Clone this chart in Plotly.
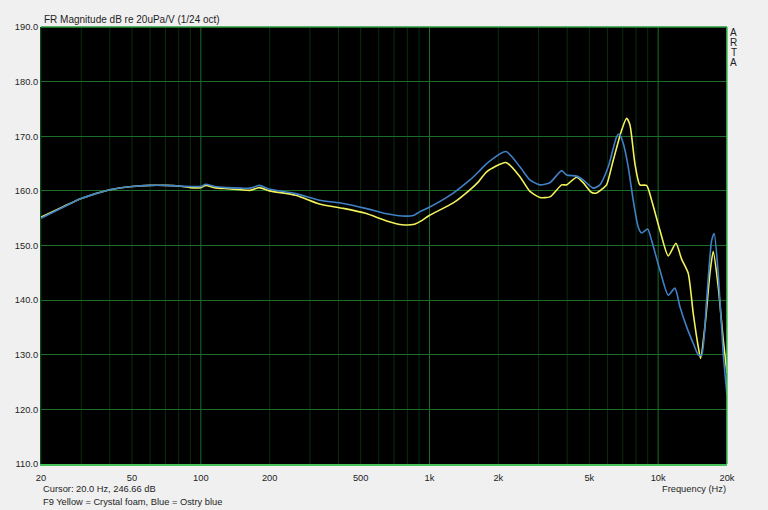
import math
import plotly.graph_objects as go

# ---------------- data ----------------
blue_freq = [20, 25, 30, 40, 50, 60, 70, 80, 90, 100, 105, 115, 130, 150, 165, 180, 200,
             260, 330, 420, 525, 650, 760, 850, 908, 998, 1270, 1502, 1640, 1778, 2160,
             2486, 2750, 3040, 3362, 3784, 3978, 4400, 4700, 5200, 5564, 6050, 6580, 6756,
             7034, 7396, 7778, 8178, 8464, 8992, 9362, 10178, 11068, 11838, 12450, 13318,
             14232, 14966, 15488, 16288, 17128, 17580, 18304, 19250, 20000]
blue_db = [155.0, 157.0, 158.6, 160.2, 160.8, 161.0, 161.0, 160.9, 160.8, 160.8, 161.2, 160.8,
           160.6, 160.5, 160.5, 161.0, 160.3, 159.5, 158.3, 157.7, 156.8, 155.8, 155.4, 155.5,
           156.2, 157.0, 159.6, 162.0, 163.5, 165.0, 167.2, 164.4, 162.0, 161.1, 161.5, 163.7,
           162.9, 162.7, 162.0, 160.5, 161.1, 164.4, 169.9, 170.4, 168.7, 164.4, 158.3, 153.4,
           152.3, 153.0, 150.9, 145.5, 140.9, 142.2, 138.8, 135.1, 132.1, 130.0, 129.9, 140.0,
           150.9, 152.2, 144.9, 130.3, 122.6]

yellow_freq = [20, 25, 30, 40, 50, 60, 70, 80, 90, 100, 105, 115, 130, 150, 165, 180, 200,
               260, 330, 420, 525, 650, 760, 860, 920, 998, 1270, 1502, 1640, 1778, 2160,
               2486, 2750, 3040, 3362, 3784, 3978, 4400, 4700, 5116, 5380, 5752, 5950, 6362,
               6920, 7278, 7524, 7912, 8320, 8900, 9362, 10178, 11068, 11958, 12664, 13534,
               14232, 14966, 15332, 16012, 16840, 17408, 18304, 19250, 20000]
yellow_db = [155.2, 157.1, 158.6, 160.2, 160.8, 161.0, 161.0, 160.9, 160.6, 160.6, 161.0, 160.6,
             160.4, 160.2, 160.1, 160.6, 160.0, 159.2, 157.6, 156.8, 155.9, 154.5, 153.8, 153.9,
             154.5, 155.5, 157.8, 160.2, 161.7, 163.5, 165.2, 162.6, 159.9, 158.8, 158.9, 161.1,
             161.1, 162.5, 161.5, 159.7, 159.6, 160.5, 161.1, 165.6, 171.1, 173.3, 172.1, 165.0,
             161.1, 161.0, 158.3, 152.8, 148.1, 150.4, 147.5, 144.9, 137.6, 131.5, 129.3, 135.1,
             144.9, 148.9, 142.5, 132.8, 126.6]

x_label_vals = [20, 50, 100, 200, 500, 1000, 2000, 5000, 10000, 20000]
x_label_text = ["20", "50", "100", "200", "500", "1k", "2k", "5k", "10k", "20k"]
x_decade_grid = [100, 1000, 10000]
x_minor_grid = [20, 30, 40, 50, 60, 70, 80, 90,
                200, 300, 400, 500, 600, 700, 800, 900,
                2000, 3000, 4000, 5000, 6000, 7000, 8000, 9000, 20000]
y_min, y_max, y_step = 110, 190, 10

title_text = "FR Magnitude dB re 20uPa/V (1/24 oct)"
cursor_text = "Cursor: 20.0 Hz, 246.66 dB"
legend_text = "F9 Yellow = Crystal foam, Blue = Ostry blue"
xtitle_text = "Frequency (Hz)"
brand_letters = ["A", "R", "T", "A"]

# ---------------- layout geometry (pixels) ----------------
W, H = 768, 510
ML, MR, MT, MB = 41, 41, 27, 46
PW, PH = W - ML - MR, H - MT - MB


def px_x(x):
    return (x - ML) / PW


def px_y(y):
    return 1 - (y - MT) / PH


FONT = "Liberation Sans, Arial, sans-serif"
TXT = "#1e1e1e"
GRID_MAJOR = "#1a6e28"
GRID_MINOR = "#082c0e"
BORDER = "#46c05a"

fig = go.Figure()
fig.add_trace(go.Scatter(x=yellow_freq, y=yellow_db, mode="lines", name="Crystal foam",
                         line=dict(color="#f2f25c", width=1.6, shape="spline", smoothing=0.6),
                         hoverinfo="skip"))
fig.add_trace(go.Scatter(x=blue_freq, y=blue_db, mode="lines", name="Ostry blue",
                         line=dict(color="#3f80c6", width=1.6, shape="spline", smoothing=0.6),
                         hoverinfo="skip"))

xr = [math.log10(20), math.log10(20000)]

# vertical grid lines (frame decoration placed through the x axis scale)
shapes = [dict(type="line", xref="x", yref="paper", x0=v, x1=v, y0=0, y1=1, layer="between",
               line=dict(color=GRID_MINOR, width=1)) for v in x_minor_grid]
shapes += [dict(type="line", xref="x", yref="paper", x0=v, x1=v, y0=0, y1=1, layer="between",
                line=dict(color=GRID_MAJOR, width=1)) for v in x_decade_grid]
shapes += [
    dict(type="line", xref="paper", yref="paper", x0=1, x1=1, y0=0, y1=1,
         line=dict(color=BORDER, width=1.5)),
    dict(type="line", xref="paper", yref="paper", x0=0, x1=1, y0=1, y1=1,
         line=dict(color="#2a9a3e", width=1.5)),
]

fig.update_layout(
    template="none",
    width=W, height=H, autosize=False,
    margin=dict(l=ML, r=MR, t=MT, b=MB, pad=0),
    paper_bgcolor="#f0f0f0", plot_bgcolor="#000000",
    showlegend=False, hovermode=False,
    font=dict(family=FONT, size=9.3, color=TXT),
    xaxis=dict(type="log", range=xr, tickvals=x_label_vals, ticktext=x_label_text,
               showgrid=False, zeroline=False,
               ticks="outside", ticklen=4, tickcolor="rgba(0,0,0,0)",
               showline=True, linecolor=BORDER, linewidth=1.5, showspikes=False,
               tickfont=dict(family=FONT, size=9.3, color=TXT)),
    yaxis=dict(range=[y_min, y_max], dtick=y_step, tick0=y_min, tickformat=".1f",
               showgrid=True, gridcolor=GRID_MAJOR, gridwidth=1, zeroline=False,
               ticks="", showline=True, linecolor="#0d4a18", linewidth=1, showspikes=False,
               tickfont=dict(family=FONT, size=9.3, color=TXT)),
    shapes=shapes,
)

ann = []
ann.append(dict(text=title_text, xref="paper", yref="paper", x=px_x(42), y=px_y(19.5),
                xanchor="left", yanchor="middle", showarrow=False,
                font=dict(family=FONT, size=10, color=TXT)))
for i, ch in enumerate(brand_letters):
    ann.append(dict(text=ch, xref="paper", yref="paper", x=px_x(733.7), y=px_y(32.5 + 10 * i),
                    xanchor="center", yanchor="middle", showarrow=False,
                    font=dict(family=FONT, size=10, color=TXT)))
ann.append(dict(text=xtitle_text, xref="paper", yref="paper", x=px_x(727.5), y=px_y(489),
                xanchor="right", yanchor="middle", showarrow=False,
                font=dict(family=FONT, size=9.3, color=TXT)))
ann.append(dict(text=cursor_text, xref="paper", yref="paper", x=px_x(41), y=px_y(489),
                xanchor="left", yanchor="middle", showarrow=False,
                font=dict(family=FONT, size=9.3, color=TXT)))
ann.append(dict(text=legend_text, xref="paper", yref="paper", x=px_x(41), y=px_y(502),
                xanchor="left", yanchor="middle", showarrow=False,
                font=dict(family=FONT, size=9.3, color=TXT)))
fig.update_layout(annotations=ann)

fig.write_html("out.html", config={"staticPlot": True, "displayModeBar": False},
               post_script="document.body.style.margin='0';document.body.style.overflow='hidden';")
